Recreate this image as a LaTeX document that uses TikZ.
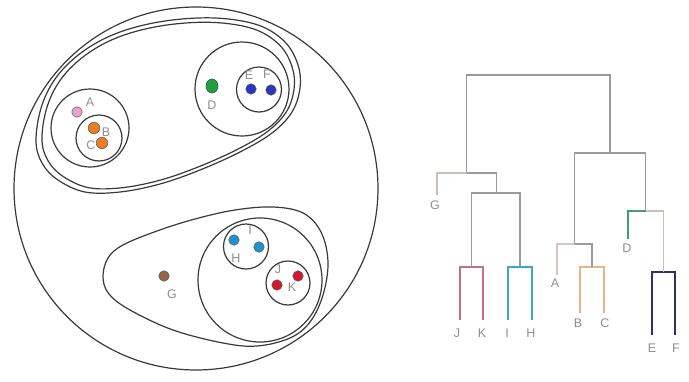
\documentclass[tikz,border=0pt]{standalone}
\usepackage{fontspec}
\setmainfont{Liberation Sans}
\usetikzlibrary{shapes.geometric}
\definecolor{ringc}{HTML}{3A3A3A}
\definecolor{labc}{HTML}{8E8E8E}
\definecolor{dgray}{HTML}{9A9A9A}
\definecolor{redc}{HTML}{C07080}
\definecolor{bluec}{HTML}{3AA6C8}
\definecolor{tanc}{HTML}{CDBDB4}
\definecolor{pinkc}{HTML}{D9C3C3}
\definecolor{orc}{HTML}{E6B486}
\definecolor{grc}{HTML}{3E9E6E}
\definecolor{navyc}{HTML}{303064}
\definecolor{ltg}{HTML}{C8C0B8}
\definecolor{fA}{HTML}{E8A2C6}
\definecolor{fO}{HTML}{F07C20}
\definecolor{fG}{HTML}{22A040}
\definecolor{fB}{HTML}{2A36C0}
\definecolor{fC}{HTML}{1C92D0}
\definecolor{fR}{HTML}{D01830}
\definecolor{fBr}{HTML}{9A6446}
\begin{document}
\begin{tikzpicture}[x=1pt,y=-1pt,
  ring/.style={draw=ringc, line width=1.2pt},
  dot/.style={circle, draw=black!65, line width=0.5pt, inner sep=0pt, minimum size=10.5pt},
  lab/.style={text=labc, font=\fontsize{12.5}{12.5}\selectfont, inner sep=0pt},
  dline/.style={line width=1.1pt, draw=dgray},
  topbar/.style={line width=2pt, draw=dgray}]
\useasboundingbox[fill=white] (0,0) rectangle (689,381);

% ---------- circle diagram ----------
\draw[ring] (196,188.5) circle[x radius=182pt, y radius=181.5pt];
\def\upblob{(36,140) (42,105) (58,75) (85,50) (120,32) (165,21) (215,18) (258,25) (285,42) (298,65) (300,88) (292,112) (272,133) (240,152) (200,170) (160,184) (120,192) (85,192) (58,180) (42,163)}
\draw[ring] plot[smooth cycle, tension=0.6] coordinates {\upblob};
\begin{scope}[shift={(168,106)}, xscale=0.955, yscale=0.95, shift={(-168,-106)}]
\draw[ring] plot[smooth cycle, tension=0.6] coordinates {\upblob};
\end{scope}
\draw[ring] (90,128) circle[radius=39pt];
\draw[ring] (99,138) circle[radius=23pt];
\draw[ring] (242,89) circle[radius=47pt];
\draw[ring] (259,89.5) circle[radius=22.5pt];

\draw[ring] plot[smooth cycle, tension=0.6] coordinates {(103,277) (108,258) (123,245) (157,231) (195,219) (235,210) (273,207) (303,213) (321,232) (328,262) (323,295) (310,322) (290,338) (257,346) (223,343) (173,330) (130,310) (109,294)};
\draw[ring] (260,280) circle[radius=62pt];
\draw[ring] (246,246.5) circle[radius=22.5pt];
\draw[ring] (288,283) circle[radius=22pt];

\node[dot, fill=fA] (dA) at (77,112) {};
\node[dot, fill=fO, minimum size=11.5pt] (dB) at (94,128) {};
\node[dot, fill=fO, minimum size=11.5pt] (dC) at (102,143) {};
\node[dot, fill=fG, draw=fG!60!black, ellipse, minimum width=12pt, minimum height=14pt] (dD) at (212,86) {};
\node[dot, fill=fB] (dE) at (251,89) {};
\node[dot, fill=fB] (dF) at (271,90) {};
\node[dot, fill=fC] (dH) at (234,240) {};
\node[dot, fill=fC] (dI) at (259,247) {};
\node[dot, fill=fR] (dJ) at (298,276) {};
\node[dot, fill=fR] (dK) at (277,285) {};
\node[dot, fill=fBr] (dG) at (164,276) {};

\node[lab] (cA) at (90,102) {A};
\node[lab] (cB) at (106,132) {B};
\node[lab] (cC) at (91,145) {C};
\node[lab] (cD) at (212,105) {D};
\node[lab] (cE) at (249,75) {E};
\node[lab] (cF) at (267,74) {F};
\node[lab] (cI) at (250,230) {I};
\node[lab] (cH) at (236,258) {H};
\node[lab] (cJ) at (278,269) {J};
\node[lab] (cK) at (292,287) {K};
\node[lab] (cG) at (172,294) {G};

% ---------- dendrogram ----------
\coordinate (lG) at (437,195);
\coordinate (lJ) at (460,320);
\coordinate (lK) at (483,320);
\coordinate (lI) at (508,320);
\coordinate (lH) at (532,320);
\coordinate (lA) at (557,275);
\coordinate (lB) at (580,313);
\coordinate (lC) at (604,313);
\coordinate (lD) at (628,239);
\coordinate (lE) at (652,335);
\coordinate (lF) at (675,335);
\coordinate (mJK) at (471.5,267);
\coordinate (mIH) at (520,267);
\coordinate (mJI) at (496.5,193);
\coordinate (mG) at (466.5,173);
\coordinate (mBC) at (592,267);
\coordinate (mA) at (574.5,244);
\coordinate (mEF) at (663.5,272);
\coordinate (mD) at (645.5,211);
\coordinate (mR) at (610,153);
\coordinate (root) at (538,75);

\draw[dline, draw=redc] (lJ) |- (mJK);
\draw[dline, draw=redc] (lK) |- (mJK);
\draw[dline, draw=bluec, line width=1.3pt] (lI) |- (mIH);
\draw[dline, draw=bluec, line width=1.3pt] (lH) |- (mIH);
\draw[dline] (mJK) |- (mJI);
\draw[dline] (mIH) |- (mJI);
\draw[dline, draw=tanc] (lG) |- (mG);
\draw[dline] (mJI) |- (mG);
\draw[dline, draw=pinkc] (lA) |- (mA);
\draw[dline, draw=orc] (lB) |- (mBC);
\draw[dline, draw=orc] (lC) |- (mBC);
\draw[dline] (mBC) |- (mA);
\draw[dline, draw=navyc, line width=1.3pt] (lE) |- (mEF);
\draw[dline, draw=navyc, line width=1.3pt] (lF) |- (mEF);
\draw[dline, draw=grc] (lD) |- (mD);
\draw[dline, draw=ltg] (mEF) |- (mD);
\draw[dline] (mA) |- (mR);
\draw[dline] (mD) |- (mR);
\draw[dline] (mG) |- (root);
\draw[dline] (mR) |- (root);
\draw[topbar] (mG |- root) -- (mR |- root);

\node[lab] (tG) at (435,205) {G};
\node[lab] (tJ) at (457,333) {J};
\node[lab] (tK) at (482,333) {K};
\node[lab] (tI) at (507,333) {I};
\node[lab] (tH) at (531,333) {H};
\node[lab] (tA) at (555,283) {A};
\node[lab] (tB) at (578,323) {B};
\node[lab] (tC) at (605,323) {C};
\node[lab] (tD) at (627,248) {D};
\node[lab] (tE) at (652,348) {E};
\node[lab] (tF) at (676,348) {F};
\end{tikzpicture}
\end{document}
